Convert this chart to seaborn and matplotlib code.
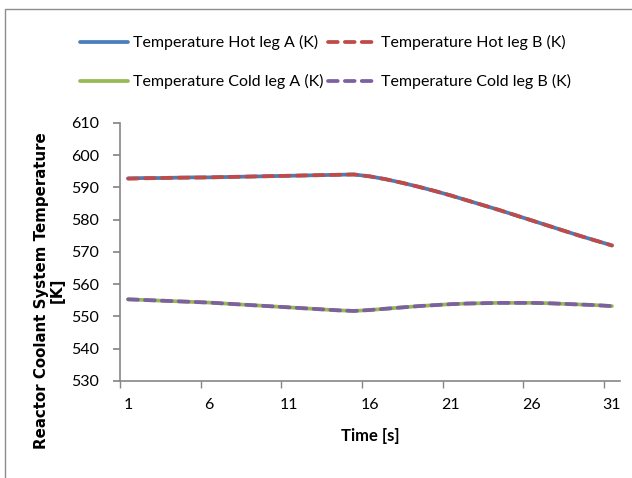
import numpy as np
import pandas as pd
import seaborn as sns
import matplotlib.pyplot as plt
from matplotlib.patches import Rectangle

# time axis (s) and the four coolant loop temperatures (K)
time_s = list(range(1, 32))
hot_leg_a = [592.8, 592.9, 592.9, 593.0, 593.1, 593.1, 593.2, 593.3, 593.4, 593.5,
             593.6, 593.7, 593.8, 593.9, 594.0, 593.4, 592.5, 591.4, 590.2, 588.9,
             587.5, 586.0, 584.5, 583.0, 581.4, 579.8, 578.2, 576.6, 575.0, 573.5, 572.0]
hot_leg_b = [592.7, 592.8, 592.9, 593.0, 593.0, 593.1, 593.2, 593.3, 593.4, 593.5,
             593.6, 593.7, 593.8, 593.9, 594.0, 593.4, 592.5, 591.4, 590.2, 588.9,
             587.5, 586.0, 584.5, 583.0, 581.4, 579.8, 578.2, 576.6, 575.0, 573.5, 572.0]
cold_leg_a = [555.3, 555.1, 554.9, 554.7, 554.5, 554.3, 554.0, 553.7, 553.4, 553.1,
              552.8, 552.5, 552.2, 551.9, 551.7, 552.0, 552.4, 552.8, 553.2, 553.5,
              553.8, 554.0, 554.1, 554.2, 554.2, 554.2, 554.1, 553.9, 553.7, 553.5, 553.2]
cold_leg_b = [555.3, 555.1, 554.9, 554.7, 554.5, 554.3, 554.0, 553.7, 553.4, 553.1,
              552.8, 552.5, 552.2, 551.9, 551.7, 552.0, 552.4, 552.8, 553.2, 553.5,
              553.8, 554.0, 554.1, 554.2, 554.2, 554.2, 554.1, 553.9, 553.7, 553.5, 553.2]

series_names = ['Temperature Hot leg A (K)', 'Temperature Hot leg B (K)',
                'Temperature Cold leg A (K)', 'Temperature Cold leg B (K)']
series_values = [hot_leg_a, hot_leg_b, cold_leg_a, cold_leg_b]
series_colors = ['#4A7EBB', '#BE4B48', '#98B954', '#7D60A0']
series_dashed = [False, True, False, True]

x_tick_labels = [1, 6, 11, 16, 21, 26, 31]
y_ticks = list(range(530, 611, 10))

sns.set_theme(style="white")
plt.rcParams['font.family'] = ['Lato', 'DejaVu Sans']
plt.rcParams['text.color'] = 'black'
plt.rcParams['axes.labelcolor'] = 'black'
plt.rcParams['xtick.color'] = 'black'
plt.rcParams['ytick.color'] = 'black'

fig = plt.figure(figsize=(6.32, 4.78), dpi=100)
ax = fig.add_axes([0.190, 0.203, 0.791, 0.540])

# chart area frame
fig.patches.append(Rectangle((5 / 632, -0.1), 1.2, 1 - 9 / 478 + 0.1, transform=fig.transFigure,
                             fill=False, edgecolor='#8C8C8C', linewidth=1.0))

handles = []
for name, vals, col, dashed in zip(series_names, series_values, series_colors, series_dashed):
    df = pd.DataFrame({'t': time_s, 'T': vals})
    ls = (0, (2.6, 1.9)) if dashed else '-'
    sns.lineplot(data=df, x='t', y='T', ax=ax, color=col, linewidth=2.7,
                 linestyle=ls, label=name, legend=False,
                 dash_capstyle='round', solid_capstyle='round')
    handles.append(ax.lines[-1])

ax.set_xlim(0.5, 31.5)
ax.set_ylim(530, 610)
ax.set_yticks(y_ticks)
ax.set_yticklabels([str(v) for v in y_ticks], fontsize=11.5)
ax.set_xticks(x_tick_labels)
ax.set_xticklabels([str(v) for v in x_tick_labels], fontsize=11.5)
ax.set_xticks([v - 0.5 for v in x_tick_labels], minor=True)
ax.tick_params(axis='x', which='major', length=0, pad=12)
ax.tick_params(axis='x', which='minor', length=5, color='#868686', direction='out', bottom=True)
ax.tick_params(axis='y', length=5, color='#868686', direction='out', left=True, pad=10)

for side in ['top', 'right']:
    ax.spines[side].set_visible(False)
for side in ['left', 'bottom']:
    ax.spines[side].set_color('#868686')
    ax.spines[side].set_linewidth(1.2)

ax.set_xlabel('Time [s]', fontsize=12, fontweight='bold', labelpad=12)
ax.set_ylabel('Reactor Coolant System Temperature\n[K]', fontsize=10.8, fontweight='bold',
              family='DejaVu Sans', linespacing=1.05)
ax.yaxis.set_label_coords(-0.11, 0.35)

order = [0, 2, 1, 3]
fig.legend([handles[i] for i in order], [series_names[i] for i in order],
           loc='center', bbox_to_anchor=(0.515, 0.870), ncol=2, frameon=False,
           fontsize=11.5, handlelength=3.0, handletextpad=0.3, columnspacing=0.3,
           labelspacing=1.5)

plt.savefig('out.png', dpi=100)
plt.close()
